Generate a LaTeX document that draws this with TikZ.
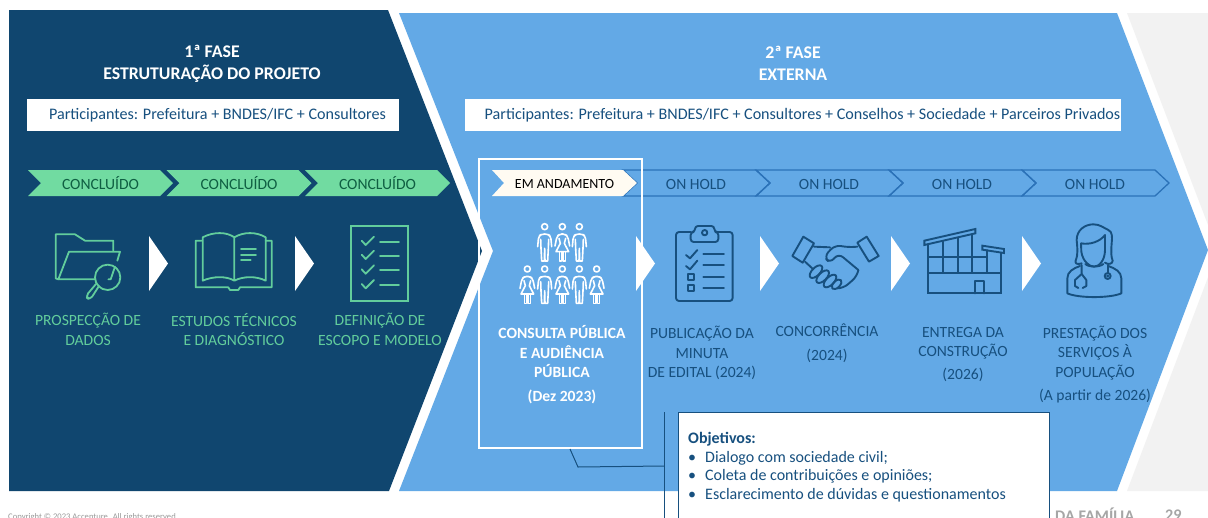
\documentclass[tikz,border=0pt]{standalone}
\usepackage{fontspec}
\setmainfont{Carlito}
\definecolor{navy}{HTML}{10466F}
\definecolor{skyb}{HTML}{63A9E6}
\definecolor{greyb}{HTML}{F2F2F2}
\definecolor{mint}{HTML}{71DBA1}
\definecolor{mintt}{HTML}{62CD9C}
\definecolor{forest}{HTML}{0F5F42}
\definecolor{inkb}{HTML}{17507F}
\definecolor{holdb}{HTML}{2B72B8}
\definecolor{cream}{HTML}{FFFBF2}
\tikzset{
  lbl/.style={font=\fontsize{15.6}{19.5}\selectfont,align=center,inner sep=0pt},
  ink/.style={line width=1.9pt,draw=inkb,line join=round,line cap=round},
  mintline/.style={line width=1.8pt,draw=mintt,line join=round,line cap=round},
  wline/.style={line width=1.6pt,draw=white,line join=round,line cap=round},
  iconA/.style={shift={(0,150)},scale=1/3},
  iconB/.style={shift={(470,150)},scale=1/3},
  iconC/.style={shift={(780,150)},scale=1/3},
}
\newcommand\chevdone[2]{%
  \fill[mint] (#1,170) -- ++(132,0) -- ++(13,13) -- ++(-13,13) -- ++(-132,0) -- ++(13,-13) -- cycle;
  \node[lbl,text=forest] (#2) at (#1+72.5,183.5) {CONCLUÍDO};}
\newcommand\chevhold[2]{%
  \draw[holdb,line width=1.3pt,line join=miter] (#1,170) -- ++(133,0) -- ++(14,13) -- ++(-14,13) -- ++(-133,0) -- ++(14,-13) -- cycle;
  \node[lbl,text=inkb] (#2) at (#1+73,184) {ON HOLD};}
\newcommand\tri[1]{\fill[white] (#1,236) -- ++(19,27.5) -- ++(-19,27.5) -- cycle;}
\newcommand\manfig[2]{\begin{scope}[shift={(#1,#2)}]
  \draw[wline] (0,0) circle (9);
  \draw[wline,rounded corners=3pt] (-21,60) -- (-18,28) -- (-8,22) -- (8,22) -- (18,28) -- (21,60);
  \draw[wline] (-12,38) -- (-11,65) -- (-9,103) -- (-1,103) -- (0,65) -- (1,103) -- (9,103) -- (11,65) -- (12,38);
\end{scope}}
\newcommand\womanfig[2]{\begin{scope}[shift={(#1,#2)}]
  \draw[wline] (0,0) circle (9);
  \draw[wline,rounded corners=3pt] (-22,58) -- (-16,28) -- (-6,22) -- (6,22) -- (16,28) -- (22,58);
  \draw[wline] (-10,35) -- (-6,50) -- (-19,75) -- (19,75) -- (6,50) -- (10,35);
  \draw[wline] (-9,75) -- (-9,103) -- (-2,103) -- (-2,75) (2,75) -- (2,103) -- (9,103) -- (9,75);
\end{scope}}
\begin{document}
\begin{tikzpicture}[x=1pt,y=-1pt]
\useasboundingbox (0,0) rectangle (1208,517);
\clip (0,0) rectangle (1208,517);
\fill[white] (0,0) rectangle (1208,517);
% backgrounds
\fill[greyb] (1127,13) -- (1208,13) -- (1208,491) -- (1127,491) -- (1218,251) -- cycle;
\fill[skyb] (399,13) -- (1117,13) -- (1208,250) -- (1117,491) -- (399,491) -- (493,251) -- cycle;
\fill[navy] (9,10) -- (388,10) -- (482,251) -- (389,491) -- (9,491) -- cycle;
% titles
\node[lbl,text=white,font=\bfseries\fontsize{17.8}{22}\selectfont] (t1) at (212,64) {1ª FASE\\ESTRUTURAÇÃO DO PROJETO};
\node[lbl,text=white,font=\bfseries\fontsize{17.8}{22}\selectfont] (t2) at (793,63) {2ª FASE\\EXTERNA};
\node[fill=white,minimum width=372pt,minimum height=32pt,inner sep=0pt,lbl,text=inkb,font=\fontsize{16.1}{19.5}\selectfont] (p1) at (213,115) {\hspace*{9pt}Participantes: Prefeitura + BNDES/IFC + Consultores};
\node[fill=white,minimum width=656pt,minimum height=32pt,inner sep=0pt,lbl,text=inkb,font=\fontsize{16.1}{19.5}\selectfont] (p2) at (793,115) {\hspace*{19pt}Participantes: Prefeitura + BNDES/IFC + Consultores + Conselhos + Sociedade + Parceiros Privados};
% status chevrons
\chevdone{28}{c1}\chevdone{166.5}{c2}\chevdone{305}{c3}
\chevhold{623}{h1}\chevhold{756}{h2}\chevhold{889}{h3}\chevhold{1022}{h4}
\fill[cream] (492,170) -- (623,170) -- (637,183) -- (623,196) -- (492,196) -- (504,183) -- cycle;
\node[lbl,text=black,font=\fontsize{14}{15}\selectfont] (em) at (564.5,184) {EM ANDAMENTO};
% step triangles
\tri{149}\tri{295}\tri{636}\tri{760}\tri{891}\tri{1022}
% folder
\begin{scope}[iconA]
\draw[mintline] (285,388) -- (175,388) -- (207,305) -- (360,305) -- (352,332);
\draw[mintline] (175,388) -- (167,385) -- (167,253) -- (225,253) -- (255,272) -- (340,272) -- (340,302);
\draw[mintline] (323,382) circle (38);
\draw[mintline] (325,388) -- (332,388) -- (345,350);
\draw[mintline,rounded corners=4pt] (297,408) -- (270,450) -- (256,440) -- (288,402);
% book
\draw[mintline] (605,272) -- (587,272) -- (587,412) -- (685,412) -- (690,420) -- (715,420) -- (720,412) -- (815,412) -- (815,272) -- (797,272);
\draw[mintline] (703,392) .. controls (680,378) and (640,378) .. (608,392) -- (608,262) .. controls (640,245) and (680,245) .. (703,262) -- (703,392) .. controls (730,378) and (770,378) .. (797,392) -- (797,262) .. controls (770,245) and (730,245) .. (703,262);
\draw[mintline] (723,297) -- (768,297) (723,314) -- (768,314) (723,330) -- (752,330);
% checklist
\draw[mintline,line join=miter] (1053,227) rectangle (1223,453);
\foreach \y in {272,314,358,402}{
  \draw[mintline] (1085,\y) -- (1097,\y+13) -- (1122,\y-12);
  \draw[mintline] (1140,\y+3) -- (1197,\y+3);}
\end{scope}
% people
\begin{scope}[iconB]
\manfig{224}{230}\womanfig{277}{230}\manfig{328}{230}
\womanfig{172}{357}\manfig{224}{357}\womanfig{277}{357}\manfig{328}{357}\womanfig{380}{357}
% clipboard
\draw[ink,rounded corners=3pt] (662,246) -- (618,246) -- (618,453) -- (788,453) -- (788,246) -- (745,246);
\draw[ink,rounded corners=3pt] (662,276) -- (662,246) -- (675,246) -- (675,228) -- (733,228) -- (733,246) -- (745,246) -- (745,276) -- cycle;
\draw[ink] (704,248) circle (8);
\draw[ink] (648,315) -- (660,325) -- (682,300) (648,348) -- (660,358) -- (682,332);
\draw[ink] (653,372) rectangle (672,390) (653,405) rectangle (672,423);
\draw[ink] (700,312) -- (762,312) (700,345) -- (762,345) (700,380) -- (762,380) (700,413) -- (762,413);
\end{scope}
\begin{scope}[iconC]
% handshake
\draw[ink] (70,260) -- (102,280) -- (68,338) -- (37,318) -- cycle;
\draw[ink] (260,260) -- (232,278) -- (267,335) -- (296,318) -- cycle;
\draw[ink] (102,290) -- (150,292);
\draw[ink,rounded corners=6pt] (232,290) -- (205,292) -- (165,285) -- (132,320) -- (150,340) -- (175,310) -- (235,360);
\draw[ink] (75,335) -- (100,358);
\draw[ink,rounded corners=6pt] (235,360) -- (232,378) -- (190,415) -- (172,415);
\foreach \a/\b in {108/365,128/380,150/393}{
  \draw[ink,rotate around={45:(\a,\b)}] (\a,\b) ellipse (24 and 12);}
\draw[ink,rotate around={45:(170,403)}] (170,403) ellipse (18 and 10);
% building
\draw[ink,line join=miter] (433,272) -- (586,237) -- (586,250) -- (433,285) -- cycle;
\draw[ink,line join=miter] (445,283) -- (445,430) -- (662,430) -- (662,310);
\draw[ink] (490,275) -- (490,368) (534,263) -- (534,368) (577,255) -- (577,368) (620,300) -- (620,368);
\draw[ink] (445,320) -- (620,320) (445,368) -- (662,368);
\draw[ink] (584,430) -- (584,392) -- (612,392) -- (612,430);
\draw[ink,line join=miter] (607,287) -- (672,297) -- (672,309) -- (607,299) -- cycle;
% doctor
\draw[ink] (905,340) .. controls (890,345) and (885,340) .. (887,332) .. controls (895,310) and (892,295) .. (890,270) .. controls (890,240) and (915,223) .. (940,223) .. controls (960,223) and (970,233) .. (985,240) .. controls (997,245) and (997,260) .. (995,280) .. controls (993,305) and (993,320) .. (998,332) .. controls (998,342) and (985,345) .. (975,338);
\draw[ink] (903,280) -- (904,305) .. controls (908,335) and (930,350) .. (942,350) .. controls (958,350) and (975,330) .. (975,300) -- (975,255) .. controls (960,275) and (930,285) .. (903,280);
\draw[ink] (916,342) .. controls (925,352) and (960,352) .. (970,342);
\draw[ink] (900,348) .. controls (880,355) and (862,365) .. (862,385) -- (862,430) .. controls (895,445) and (990,445) .. (1024,430) -- (1024,385) .. controls (1024,365) and (1005,355) .. (985,348);
\draw[ink] (905,345) -- (905,372) -- (885,390) -- (885,408) -- (895,414);
\draw[ink] (905,372) -- (919,390) -- (919,408) -- (908,414);
\draw[ink] (983,345) -- (983,368);
\draw[ink] (983,378) circle (9);
\draw[ink,line width=1pt] (983,378) circle (3);
\end{scope}
% step labels
\node[lbl,text=mintt] (s1) at (88,329.5) {PROSPECÇÃO DE\\DADOS};
\node[lbl,text=mintt] (s2) at (234,329.5) {ESTUDOS TÉCNICOS\\E DIAGNÓSTICO};
\node[lbl,text=mintt] (s3) at (380,329.5) {DEFINIÇÃO DE\\ESCOPO E MODELO};
\node[lbl,text=white,font=\bfseries\fontsize{15.6}{19.5}\selectfont] (s4) at (562,364.5) {CONSULTA PÚBLICA\\E AUDIÊNCIA\\PÚBLICA\\[4pt](Dez 2023)};
\node[lbl,text=inkb] (s5) at (702,353) {PUBLICAÇÃO DA\\MINUTA\\DE EDITAL (2024)};
\node[lbl,text=inkb] (s6) at (827,343) {CONCORRÊNCIA\\[4pt](2024)};
\node[lbl,text=inkb] (s7) at (963,354.5) {ENTREGA DA\\CONSTRUÇÃO\\[3pt](2026)};
\node[lbl,text=inkb] (s8) at (1095,364.5) {PRESTAÇÃO DOS\\SERVIÇOS À\\POPULAÇÃO\\[4pt](A partir de 2026)};
% footer
\node[anchor=west,inner sep=0pt,text=black!40,font=\fontsize{8.6}{10}\selectfont] (copy) at (8,517) {Copyright © 2023 Accenture. All rights reserved.};
\node[anchor=west,inner sep=0pt,text=black!35,font=\bfseries\fontsize{16.2}{18}\selectfont] (fam) at (1055,515) {DA FAMÍLIA};
\node[anchor=west,inner sep=0pt,text=black!35,font=\bfseries\fontsize{16.2}{18}\selectfont] (pg) at (1165,515) {29};
% frame and callout
\node[draw=white,line width=2pt,minimum width=163pt,minimum height=289pt,inner sep=0pt] (frame) at (560.5,303.5) {};
\node[draw=inkb,line width=1pt,fill=white,minimum width=371pt,minimum height=130pt,inner sep=0pt] (obj) at (863.5,477) {};
\coordinate (elbow) at (578,467);
\coordinate (barT) at (664,412);
\coordinate (barB) at (664,520);
\coordinate (barM) at (664,466);
\draw[inkb,line width=1pt] ([xshift=9.5pt]frame.south) -- (elbow) -- (barM);
\draw[inkb,line width=1pt] (barT) -- (barB);
\node[anchor=north west,inner sep=0pt,text=inkb,align=left,font=\fontsize{16}{18.5}\selectfont] (objt) at (688,432.5) {\textbf{Objetivos:}\\\makebox[17pt][l]{•}Dialogo com sociedade civil;\\\makebox[17pt][l]{•}Coleta de contribuições e opiniões;\\\makebox[17pt][l]{•}Esclarecimento de dúvidas e questionamentos};
\end{tikzpicture}
\end{document}
